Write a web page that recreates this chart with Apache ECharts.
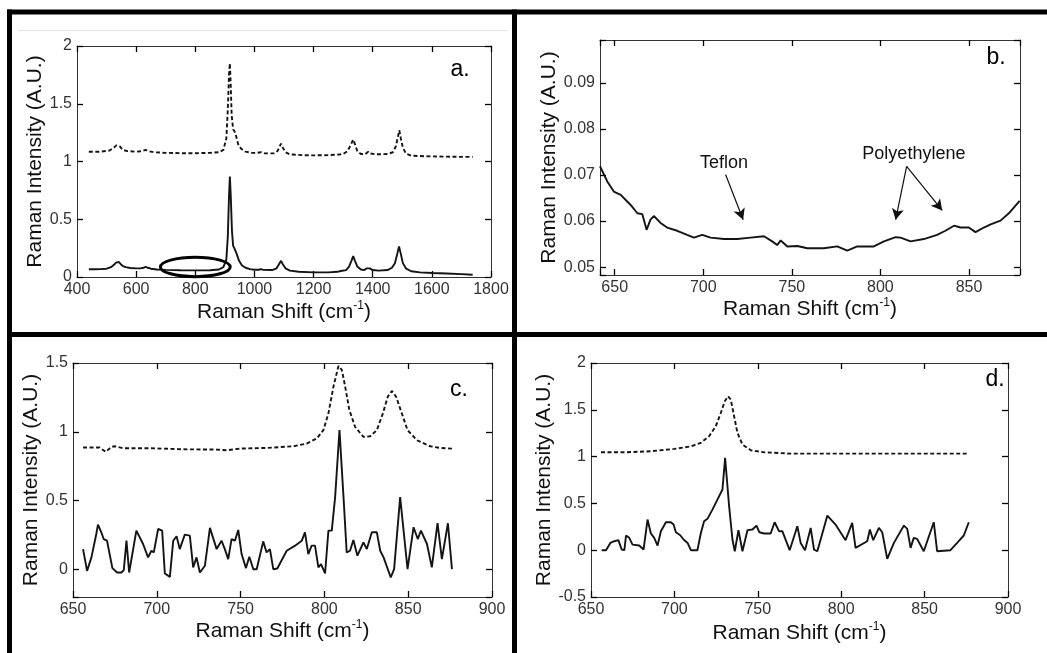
<!DOCTYPE html>
<html><head><meta charset="utf-8">
<script src="https://cdn.jsdelivr.net/npm/echarts@6/dist/echarts.min.js"></script>
<style>html,body{margin:0;padding:0;background:#fff}#c{width:1047px;height:653px}</style>
</head><body><div id="c"></div>
<script>
// ---------- DATA ----------
const panelA_solid = [[440,0.067],[460,0.067],[480,0.068],[500,0.072],[515,0.085],[525,0.105],[532,0.125],[537,0.138],[542,0.13],[548,0.11],[555,0.095],[565,0.085],[580,0.078],[600,0.075],[615,0.075],[625,0.08],[632,0.088],[640,0.08],[650,0.072],[670,0.065],[700,0.062],[750,0.058],[800,0.057],[850,0.058],[880,0.065],[895,0.085],[905,0.15],[910,0.35],[914,0.7],[917,0.87],[920,0.7],[924,0.4],[928,0.27],[932,0.25],[936,0.24],[940,0.2],[948,0.14],[958,0.1],[970,0.08],[985,0.068],[1000,0.063],[1015,0.063],[1022,0.068],[1030,0.062],[1060,0.06],[1075,0.075],[1083,0.11],[1090,0.14],[1096,0.11],[1105,0.075],[1120,0.055],[1150,0.045],[1200,0.04],[1250,0.04],[1280,0.045],[1292,0.052],[1298,0.05],[1310,0.06],[1320,0.09],[1328,0.14],[1334,0.18],[1340,0.14],[1348,0.09],[1360,0.065],[1372,0.06],[1380,0.075],[1385,0.085],[1390,0.075],[1400,0.06],[1420,0.055],[1450,0.06],[1465,0.08],[1475,0.12],[1483,0.2],[1489,0.265],[1495,0.2],[1502,0.12],[1512,0.075],[1530,0.05],[1560,0.04],[1600,0.035],[1650,0.03],[1700,0.025],[1738,0.02]];
const panelA_dashed = [[440,1.085],[480,1.085],[510,1.095],[525,1.12],[533,1.14],[538,1.15],[545,1.13],[555,1.1],[570,1.09],[600,1.085],[620,1.09],[632,1.1],[642,1.09],[660,1.08],[700,1.075],[750,1.072],[800,1.072],[850,1.075],[880,1.08],[895,1.1],[905,1.2],[910,1.45],[914,1.75],[917,1.85],[920,1.65],[923,1.4],[928,1.28],[933,1.26],[938,1.22],[945,1.15],[955,1.11],[970,1.085],[990,1.075],[1010,1.075],[1022,1.08],[1035,1.07],[1065,1.07],[1078,1.09],[1085,1.13],[1090,1.155],[1096,1.12],[1105,1.08],[1120,1.062],[1160,1.055],[1200,1.053],[1250,1.055],[1285,1.06],[1300,1.065],[1315,1.09],[1325,1.14],[1334,1.19],[1340,1.15],[1348,1.09],[1360,1.065],[1375,1.065],[1385,1.085],[1392,1.07],[1410,1.062],[1450,1.065],[1468,1.08],[1478,1.13],[1484,1.2],[1490,1.27],[1495,1.2],[1502,1.12],[1512,1.07],[1530,1.05],[1580,1.045],[1650,1.042],[1700,1.04],[1738,1.04]];
const panelB_solid = [[641.7,0.0719],[645.8,0.0686],[649.5,0.0664],[653.4,0.0657],[659,0.0635],[662.8,0.0617],[665.6,0.0615],[668.0,0.0581],[670.2,0.0603],[672.1,0.0611],[675.9,0.0596],[679.6,0.0586],[685.3,0.0579],[690.9,0.057],[694.7,0.0564],[699.4,0.057],[704.1,0.0564],[711.7,0.0561],[719.2,0.0561],[726.7,0.0564],[734.3,0.0567],[738.9,0.0556],[741.7,0.0548],[743.7,0.0558],[747.5,0.0545],[753.1,0.0546],[758.7,0.0541],[768.1,0.0541],[775.6,0.0545],[781.3,0.0536],[786.9,0.0545],[796.3,0.0545],[802,0.0556],[808.6,0.0565],[811.4,0.0564],[817,0.0556],[824.5,0.0561],[832,0.057],[836.7,0.0579],[841.5,0.059],[845.2,0.0586],[849.9,0.0586],[853.7,0.0576],[858.4,0.0586],[862.2,0.0593],[867.8,0.0601],[872.5,0.0617],[878.6,0.0644]];
const panelC_dashed = [[656,0.886],[665.9,0.886],[669.5,0.854],[672.9,0.89],[674.9,0.895],[679.9,0.881],[695.8,0.881],[715.7,0.873],[735.7,0.871],[741.6,0.866],[749.6,0.878],[765.5,0.883],[781.5,0.895],[789.4,0.915],[795.4,0.951],[799.4,1.012],[802.4,1.134],[805.4,1.328],[808.4,1.479],[810.4,1.45],[812.4,1.328],[814.9,1.158],[818.3,1.036],[823.3,0.963],[827.3,0.968],[831.3,1.012],[834.9,1.134],[837.8,1.255],[840.2,1.297],[842.8,1.255],[846.2,1.134],[849.6,1.012],[855.2,0.939],[863.1,0.895],[869.1,0.883],[876.1,0.878]];
const panelC_solid = [[656,0.148],[658.4,-0.01],[661,0.088],[663.9,0.258],[664.9,0.326],[666.9,0.27],[668.3,0.221],[670.3,0.209],[673.5,0.01],[676.3,-0.022],[678.9,-0.022],[680.3,-0.005],[681.9,0.209],[683.5,-0.022],[687.8,0.282],[691.8,0.185],[694.8,0.088],[696.8,0.136],[698.2,0.124],[700.8,0.294],[703.2,0.282],[704.8,-0.029],[707.8,-0.054],[709.8,0.209],[711.8,0.241],[713.7,0.148],[716.7,0.253],[719.7,0.246],[721.7,0.015],[723.7,0.088],[725.7,-0.022],[728.7,0.027],[731.7,0.302],[735.7,0.148],[738.6,0.209],[740.6,0.148],[742.6,0.075],[744.6,0.221],[746.6,0.209],[748.6,0.287],[750.6,0.112],[753.2,0.01],[755.2,0.092],[757.6,0.002],[759.6,0.002],[763.5,0.204],[765.5,0.124],[767.5,0.148],[769.5,0.002],[771.9,0.007],[777.5,0.136],[782.5,0.173],[786.5,0.209],[788.4,0.27],[790.4,0.112],[792.4,0.173],[794.4,0.173],[796.4,0.015],[798,0.039],[800.4,-0.029],[802.4,0.282],[804.4,0.282],[806.4,0.526],[809,1.012],[811.4,0.526],[813.3,0.124],[815.3,0.136],[817.3,0.214],[819.7,0.1],[823.3,0.197],[825.3,0.148],[828.3,0.27],[831.3,0.27],[833.3,0.136],[835.3,0.088],[839.6,-0.058],[841.6,0.002],[845.2,0.526],[849.6,0.002],[853.2,0.307],[855.7,0.221],[857.6,0.282],[861.2,0.185],[864.1,0.015],[867.5,0.336],[870.1,0.075],[873.7,0.336],[876.1,0.002]];
const panelD_dashed = [[656,1.046],[670,1.046],[685.9,1.057],[699.9,1.082],[709.9,1.11],[715.8,1.146],[720.8,1.217],[724.8,1.324],[727.8,1.466],[730.2,1.591],[732.2,1.644],[733.8,1.609],[735.8,1.431],[737.8,1.253],[740.8,1.128],[745.8,1.068],[753.8,1.046],[769.7,1.032],[789.7,1.032],[809.6,1.032],[829.6,1.032],[849.5,1.032],[876.5,1.032]];
const panelD_solid = [[656.4,0],[659,0],[661.6,0.078],[664,0.096],[666.4,0.107],[668.4,0.007],[670,0],[671,0.157],[672.9,0.132],[674.9,0.06],[678.9,0.05],[681.5,0.007],[683.9,0.327],[685.9,0.178],[687.9,0.132],[689.9,0.05],[691.9,0.203],[694.9,0.299],[697.9,0.299],[699.5,0.274],[700.9,0.192],[703.5,0.16],[705.5,0.114],[707.9,0.078],[709.9,0],[713.8,0],[715.8,0.178],[717.8,0.31],[719.8,0.335],[722.8,0.434],[725.8,0.541],[728.8,0.648],[730.4,0.986],[732.8,0.47],[734.8,0.114],[736.2,-0.011],[738.4,0.214],[740.8,-0.011],[743.8,0.214],[746.8,0.221],[749.2,0.263],[750.9,0.192],[753.8,0.178],[757.7,0.178],[760.1,0.299],[762.7,0.203],[764.7,0.203],[769.1,0],[773.7,0.256],[775.7,0.078],[778.3,0],[781.7,0.238],[783.7,0.007],[785.7,-0.011],[791.7,0.37],[796.6,0.274],[802.6,0.107],[806.6,0.292],[808.6,0.025],[815.6,0.096],[817.2,0.221],[819.2,0.107],[822.6,0.238],[824.6,0.192],[827.6,-0.093],[831.6,0.078],[837.6,0.263],[839.6,0.228],[841.6,0.025],[843.5,0.132],[845.5,0.121],[849.5,-0.011],[855.5,0.299],[857.5,-0.011],[865.5,0],[869.5,0.078],[873.5,0.157],[876.5,0.299]];

// axis ranges [min, max, labelStep]
const xRanges = [[400,1800,200],[641.7,878.8,50],[650,900,50],[650,900,50]];
const yRanges = [[0,2,0.5],[0.0483,0.0993,0.01],[-0.2,1.5,0.5],[-0.5,2,0.5]];
const panelLetters = ['a.','b.','c.','d.'];
const xTitle = 'Raman Shift (cm{sup|-1})';
const yTitle = 'Raman Intensity (A.U.)';
// annotations (data space)
const ellipseA = {cx:800, cy:0.087, rx:118, ry:0.084};
const labelsB = [{text:'Teflon', at:[711.7,0.0726]},{text:'Polyethylene', at:[818.9,0.0746]}];
const arrowsB = [[[712.6,0.0701],[722.5,0.0603]],[[814.8,0.0719],[808.6,0.0603]],[[814.8,0.0719],[834.9,0.0623]]];

// ---------- LAYOUT ----------
const FONT = "'Liberation Sans', Arial, sans-serif";
const grids = [
  {left:77, top:46, width:414, height:231},
  {left:600, top:40, width:420, height:235},
  {left:73, top:363, width:419, height:234},
  {left:591, top:363, width:417, height:234}
];
const xNameGap = [23, 19, 13, 24];
const yNameGap = [30, 30, 26, 30];
const splitNums = [[7,4],[5,5],[5,3],[5,5]];
const letterPos = [[460,70],[996,58],[459,390],[995,380]];

function fmtFactory(step){
  return function(v){
    const k = v/step;
    if (Math.abs(k-Math.round(k))>1e-6) return '';
    return String(+(+v).toFixed(4));
  };
}
function tickStyle(){ return {show:true, inside:true, length:6, lineStyle:{color:'#000', width:1.3, opacity:1}}; }
function lineStyle(){ return {show:true, onZero:false, lineStyle:{color:'#333', width:1}}; }
function mkX(i, top){
  const r = xRanges[i];
  const ax = {type:'value', gridIndex:i, position: top?'top':'bottom', min:r[0], max:r[1],
    splitNumber: splitNums[i][0],
    axisLine:lineStyle(),
    axisTick:tickStyle(),
    minorTick:{show:false},
    splitLine:{show:false},
    axisLabel:{show:!top, color:'#333', fontSize:16, fontFamily:FONT, margin:5, showMinLabel:true, showMaxLabel:true, formatter:fmtFactory(r[2])}
  };
  if (r[0] % r[2] === 0) ax.interval = r[2];
  if (!top){
    ax.name = xTitle; ax.nameLocation='middle'; ax.nameGap = xNameGap[i];
    ax.nameTextStyle = {fontSize:21, color:'#111', fontFamily:FONT, lineHeight:24,
      rich:{sup:{fontSize:12, color:'#111', fontFamily:FONT, verticalAlign:'top', lineHeight:24}}};
  }
  return ax;
}
function mkY(i, right){
  const r = yRanges[i];
  const ax = {type:'value', gridIndex:i, position: right?'right':'left', min:r[0], max:r[1],
    splitNumber: splitNums[i][1],
    axisLine:lineStyle(),
    axisTick:tickStyle(),
    minorTick:{show:false},
    splitLine:{show:false},
    axisLabel:{show:!right, color:'#333', fontSize:16, fontFamily:FONT, margin:5, showMinLabel:true, showMaxLabel:true, formatter:fmtFactory(r[2])}
  };
  if (Math.abs(r[0]/r[2]-Math.round(r[0]/r[2]))<1e-9) ax.interval = r[2];
  if (!right){
    ax.name = yTitle; ax.nameLocation='middle'; ax.nameGap = yNameGap[i];
    ax.nameTextStyle = {fontSize:21, color:'#111', fontFamily:FONT};
  }
  return ax;
}
const xAxes = [], yAxes = [];
for (let i=0;i<4;i++){ xAxes.push(mkX(i,false), mkX(i,true)); yAxes.push(mkY(i,false), mkY(i,true)); }

const solidStyle = {color:'#141414', width:1.9, type:'solid'};
const dashStyle = {color:'#141414', width:1.9, type:[4,2.5]};
function ser(i, data, style, extra){
  return Object.assign({type:'line', xAxisIndex:2*i, yAxisIndex:2*i, data:data, symbol:'none', showSymbol:false,
    lineStyle:style, itemStyle:{color:'#141414'}, animation:false, silent:true, z:3}, extra||{});
}
const series = [
  ser(0, panelA_dashed, dashStyle),
  ser(0, panelA_solid, solidStyle),
  ser(1, panelB_solid, solidStyle, {markLine:{silent:true, animation:false, symbol:['none','arrow'], symbolSize:[9,11],
      lineStyle:{color:'#111', width:1.2, type:'solid'}, label:{show:false}, emphasis:{disabled:true},
      data: arrowsB.map(a=>[{coord:a[0]},{coord:a[1]}])}}),
  ser(2, panelC_dashed, dashStyle),
  ser(2, panelC_solid, solidStyle),
  ser(3, panelD_dashed, dashStyle),
  ser(3, panelD_solid, solidStyle)
];

const frame = [
  {type:'line', shape:{x1:7,y1:12,x2:1047,y2:12}},
  {type:'line', shape:{x1:9.5,y1:9.5,x2:9.5,y2:653}},
  {type:'line', shape:{x1:514.5,y1:9.5,x2:514.5,y2:653}},
  {type:'line', shape:{x1:7,y1:334.5,x2:1047,y2:334.5}}
].map(g=>Object.assign(g,{style:{stroke:'#000', lineWidth:5}, silent:true, z:10}));
frame.push({type:'line', shape:{x1:18,y1:30.5,x2:508,y2:30.5}, style:{stroke:'#e6e6e6', lineWidth:1}, silent:true});
panelLetters.forEach((t,i)=>frame.push({type:'text', x:letterPos[i][0], y:letterPos[i][1], silent:true,
  style:{text:t, font:'23px '+FONT, fill:'#000', textAlign:'center', textVerticalAlign:'middle'}}));

const chart = echarts.init(document.getElementById('c'), null, {renderer:'canvas', width:1047, height:653});
chart.setOption({
  backgroundColor:'#fff', animation:false,
  grid: grids.map(g=>Object.assign({containLabel:false, outerBoundsMode:'none', show:false}, g)),
  xAxis: xAxes, yAxis: yAxes, series: series, graphic: frame
});

// annotations positioned via the axes
const extra = [];
const c0 = chart.convertToPixel({seriesIndex:1}, [ellipseA.cx, ellipseA.cy]);
const c1 = chart.convertToPixel({seriesIndex:1}, [ellipseA.cx+ellipseA.rx, ellipseA.cy+ellipseA.ry]);
extra.push({type:'ellipse', shape:{cx:c0[0], cy:c0[1], rx:Math.abs(c1[0]-c0[0]), ry:Math.abs(c1[1]-c0[1])},
  style:{fill:null, stroke:'#000', lineWidth:3}, silent:true, z:5});
labelsB.forEach(l=>{
  const p = chart.convertToPixel({seriesIndex:2}, l.at);
  extra.push({type:'text', x:p[0], y:p[1], silent:true, z:5,
    style:{text:l.text, font:'18px '+FONT, fill:'#111', textAlign:'center', textVerticalAlign:'middle'}});
});
chart.setOption({graphic: frame.concat(extra)});
</script></body></html>
